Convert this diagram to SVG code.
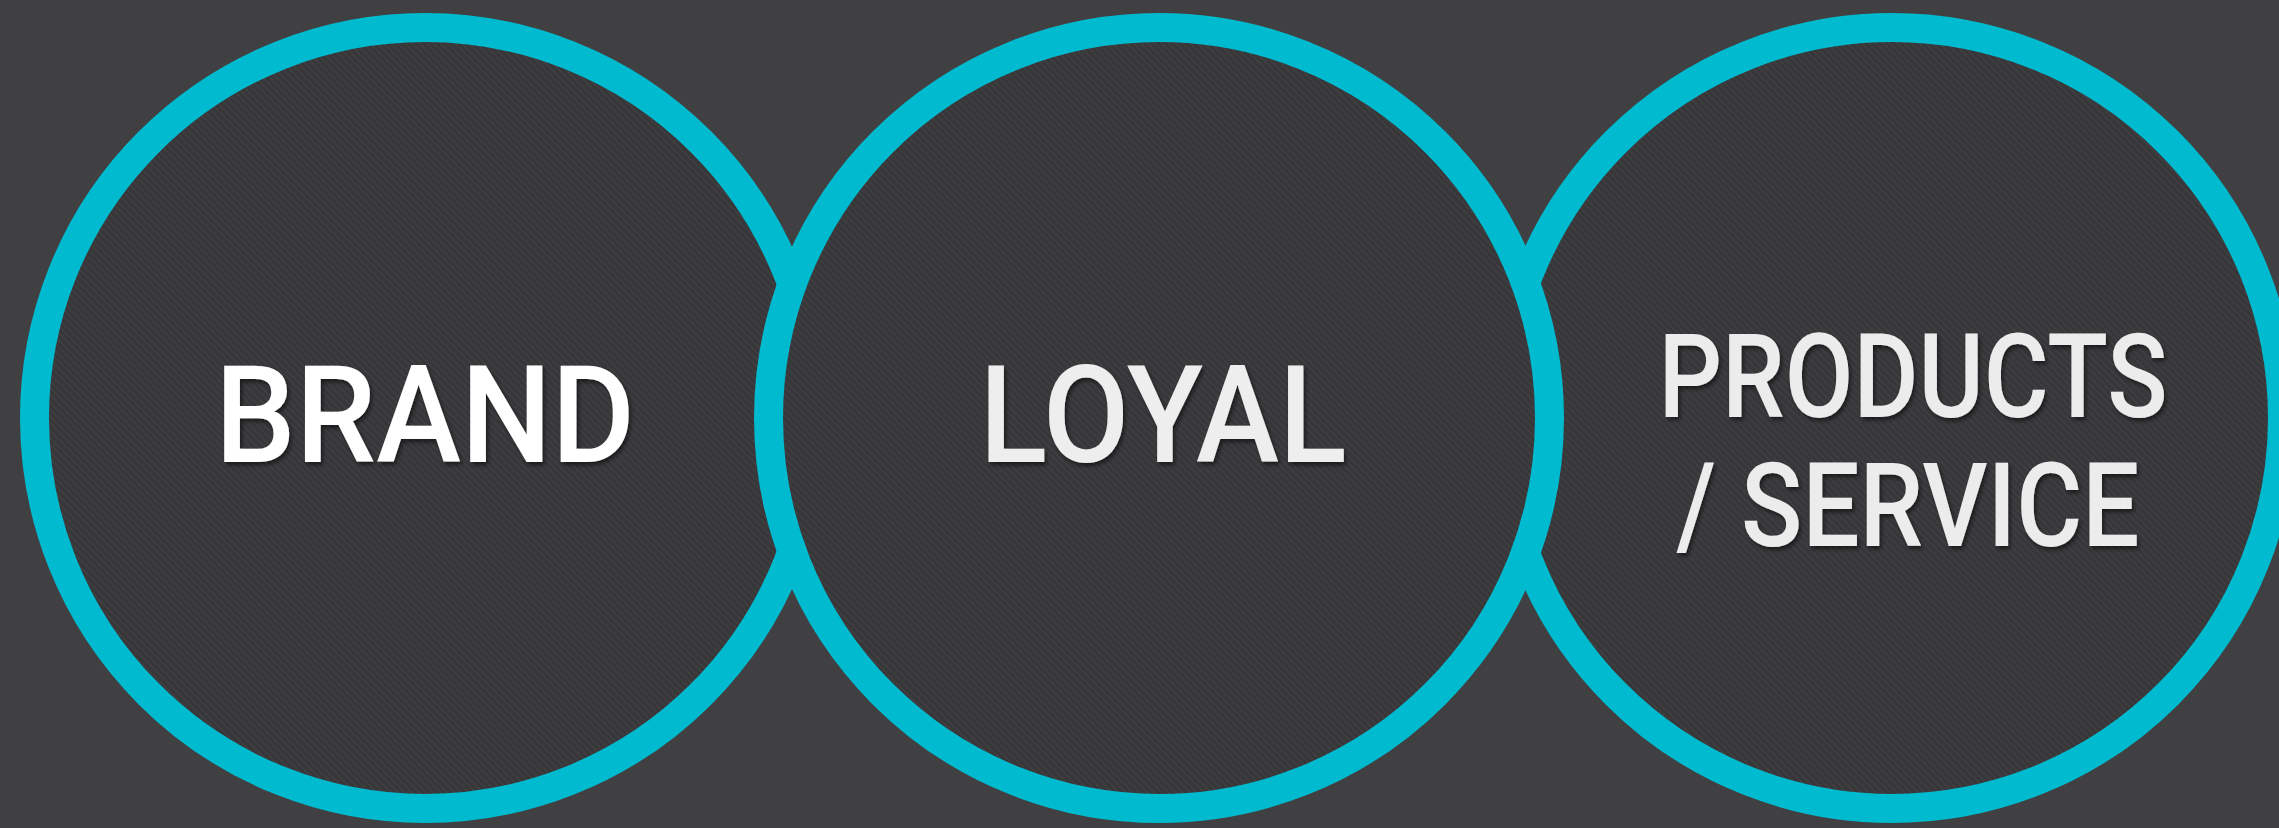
<svg xmlns="http://www.w3.org/2000/svg" width="2279" height="828" viewBox="0 0 2279 828">
  <defs>
    <pattern id="stripes" patternUnits="userSpaceOnUse" width="5" height="5" patternTransform="rotate(-45)">
      <rect width="5" height="5" fill="#37373a"/>
      <rect width="2" height="5" fill="#3e3e41"/>
    </pattern>
    <filter id="shadow" x="-10%" y="-20%" width="120%" height="150%">
      <feDropShadow dx="2" dy="3" stdDeviation="2" flood-color="#000" flood-opacity="0.55"/>
    </filter>
  </defs>
  <style>
    .ring { fill: url(#stripes); stroke: #00bbcf; stroke-width: 29; }
    .label { font-family: Roboto, "Liberation Sans", sans-serif; font-weight: 500; text-anchor: middle; filter: url(#shadow); }
  </style>
  <rect width="2279" height="828" fill="#404042"/>
  <g id="connectors"/>
  <g id="node-brand">
    <circle class="ring" cx="425" cy="418" r="390.5"/>
    <text class="label" x="425" y="462" font-size="136" fill="#ffffff" textLength="420" lengthAdjust="spacingAndGlyphs">BRAND</text>
  </g>
  <g id="node-products">
    <circle class="ring" cx="1892" cy="418" r="390.5"/>
    <text class="label" x="1913" y="417" font-size="117" fill="#ececec" textLength="509" lengthAdjust="spacingAndGlyphs">PRODUCTS</text>
    <text class="label" x="1908" y="546" font-size="117" fill="#ececec" textLength="463" lengthAdjust="spacingAndGlyphs">/ SERVICE</text>
  </g>
  <g id="node-loyal">
    <circle class="ring" cx="1159" cy="418" r="390.5"/>
    <text class="label" x="1163" y="462" font-size="136" fill="#eeeeee" textLength="367" lengthAdjust="spacingAndGlyphs">LOYAL</text>
  </g>
</svg>
